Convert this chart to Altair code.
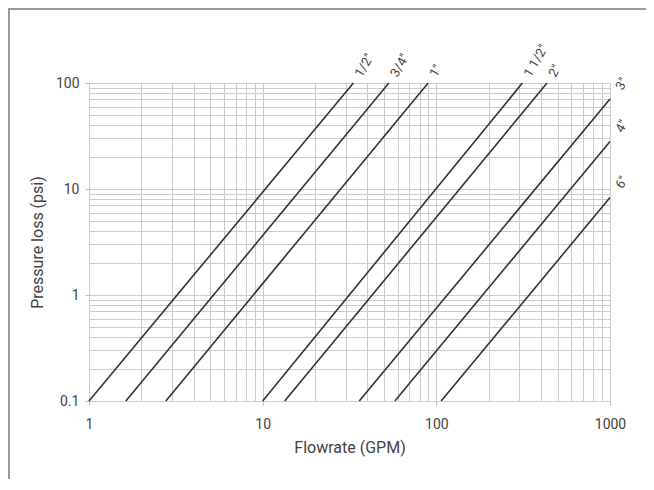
import altair as alt
import pandas as pd

# ---- data ----
sizes = ['1/2"', '3/4"', '1"', '1 1/2"', '2"', '3"', '4"', '6"']
start_flow = [1.0, 1.63, 2.77, 10.0, 13.4, 36.0, 57.7, 106.6]
start_loss = [0.1, 0.1, 0.1, 0.1, 0.1, 0.1, 0.1, 0.1]
end_flow = [33.3, 53.3, 89.7, 313.0, 434.0, 1000.0, 1000.0, 1000.0]
end_loss = [100.0, 100.0, 100.0, 100.0, 100.0, 70.6, 28.1, 8.3]
label_side = ["top", "top", "top", "top", "top", "right", "right", "right"]

x_grid = [1, 2, 3, 4, 5, 6, 7, 8, 9,
          10, 20, 30, 40, 50, 60, 70, 80, 90,
          100, 200, 300, 400, 500, 600, 700, 800, 900, 1000]
x_major = [1, 10, 100, 1000]
y_grid = [0.1, 0.2, 0.3, 0.4, 0.5, 0.6, 0.7, 0.8, 0.9,
          1, 2, 3, 4, 5, 6, 7, 8, 9,
          10, 20, 30, 40, 50, 60, 70, 80, 90, 100]
y_major = [0.1, 1, 10, 100]

# ---- tables ----
rows = []
for i, s in enumerate(sizes):
    rows.append({"size": s, "flow": start_flow[i], "loss": start_loss[i], "order": 0})
    rows.append({"size": s, "flow": end_flow[i], "loss": end_loss[i], "order": 1})
lines_df = pd.DataFrame(rows)

labels_df = pd.DataFrame({
    "size": sizes, "flow": end_flow, "loss": end_loss, "side": label_side
})

FONT = "Roboto, 'Liberation Sans', sans-serif"
TXT = "#444444"
X_TITLE = "Flowrate (GPM)"
Y_TITLE = "Pressure loss (psi)"

x_major_js = "[" + ",".join(str(v) for v in x_major) + "]"
y_major_js = "[" + ",".join(str(v) for v in y_major) + "]"

x_scale = alt.Scale(type="log", domain=[1, 1000], nice=False)
y_scale = alt.Scale(type="log", domain=[0.1, 100], nice=False)

x_axis = alt.Axis(
    values=x_grid,
    labelExpr=f"indexof({x_major_js}, datum.value) >= 0 ? datum.value + '' : ''",
    labelOverlap=False, labelFlush=False,
    labelFont=FONT, labelFontSize=14, labelColor=TXT, labelPadding=12,
    titleFont=FONT, titleFontSize=16, titleFontWeight="normal", titleColor=TXT,
    titlePadding=8,
    grid=True, gridColor="#cccccc", gridWidth=1,
    domain=False, tickSize=4, tickColor="#bbbbbb",
    tickOpacity={"condition": {"test": f"indexof({x_major_js}, datum.value) >= 0", "value": 1}, "value": 0},
)
y_axis = alt.Axis(
    values=y_grid,
    labelExpr=f"indexof({y_major_js}, datum.value) >= 0 ? datum.value + '' : ''",
    labelOverlap=False, labelFlush=False,
    labelFont=FONT, labelFontSize=14, labelColor=TXT, labelPadding=6,
    titleFont=FONT, titleFontSize=16, titleFontWeight="normal", titleColor=TXT,
    titlePadding=10,
    grid=True, gridColor="#cccccc", gridWidth=1,
    domain=False, tickSize=4, tickColor="#bbbbbb",
    tickOpacity={"condition": {"test": f"indexof({y_major_js}, datum.value) >= 0", "value": 1}, "value": 0},
)

lines = alt.Chart(lines_df).mark_line(color="#333333", strokeWidth=1.6).encode(
    x=alt.X("flow:Q", scale=x_scale, axis=x_axis, title=X_TITLE),
    y=alt.Y("loss:Q", scale=y_scale, axis=y_axis, title=Y_TITLE),
    detail="size:N",
    order="order:Q",
)

top_labels = alt.Chart(labels_df).transform_filter(
    alt.datum.side == "top"
).mark_text(
    angle=300, align="left", baseline="middle", font=FONT, fontSize=13,
    color=TXT, xOffset=5, yOffset=-7,
).encode(
    x=alt.X("flow:Q", scale=x_scale, axis=x_axis, title=X_TITLE),
    y=alt.Y("loss:Q", scale=y_scale, axis=y_axis, title=Y_TITLE),
    text="size:N",
)

right_labels = alt.Chart(labels_df).transform_filter(
    alt.datum.side == "right"
).mark_text(
    angle=300, align="center", baseline="middle", font=FONT, fontSize=13,
    color=TXT, xOffset=12, yOffset=-15,
).encode(
    x=alt.X("flow:Q", scale=x_scale, axis=x_axis, title=X_TITLE),
    y=alt.Y("loss:Q", scale=y_scale, axis=y_axis, title=Y_TITLE),
    text="size:N",
)

frame = alt.Chart(pd.DataFrame({"f": [0]})).mark_rect(
    fill="transparent", stroke="#9a9a9a", strokeWidth=2
).encode(
    x=alt.value(-80), x2=alt.value(1200),
    y=alt.value(-74), y2=alt.value(1200),
)

chart = alt.layer(frame, lines, top_labels, right_labels).properties(
    width=521, height=318,
    autosize=alt.AutoSizeParams(type="none"),
    padding={"left": 81, "top": 75, "right": 36, "bottom": 78},
).configure_view(stroke=None)

chart.save("out.html", embed_options={"renderer": "svg", "actions": False})
